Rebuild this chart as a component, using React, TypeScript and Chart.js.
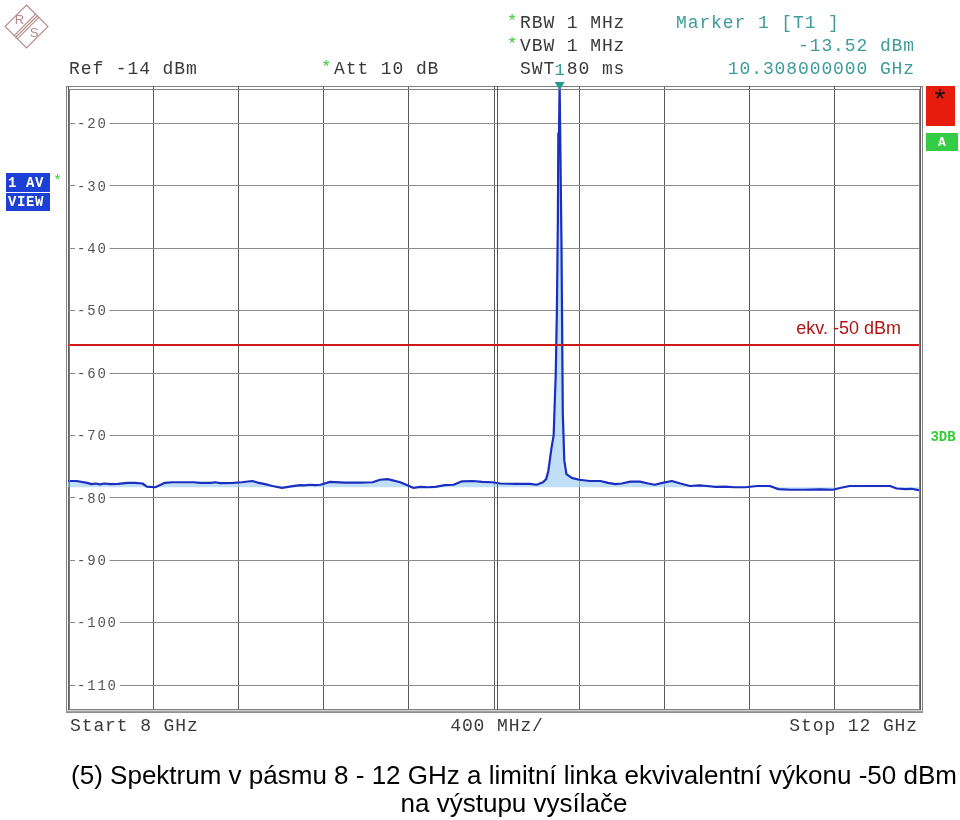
import React, { useEffect, useRef } from "react";
import { Chart, registerables } from "chart.js";

Chart.register(...registerables);

// ---- data ----
const freqGHz = [
  8.0, 8.04, 8.09, 8.11, 8.13, 8.15, 8.17, 8.2, 8.235, 8.28, 8.315, 8.35, 8.37, 8.41, 8.43, 8.455, 8.49, 8.55,
  8.59, 8.62, 8.67, 8.69, 8.715, 8.775, 8.815, 8.865, 8.89, 8.925, 8.96, 9.005, 9.04, 9.09, 9.11, 9.135, 9.16,
  9.185, 9.23, 9.3, 9.37, 9.43, 9.465, 9.5, 9.525, 9.56, 9.59, 9.62, 9.655, 9.69, 9.725, 9.77, 9.81, 9.85, 9.9,
  9.945, 9.99, 10.03, 10.1, 10.17, 10.2, 10.23, 10.245, 10.255, 10.27, 10.28, 10.29, 10.295, 10.3, 10.302,
  10.305, 10.308, 10.312, 10.317, 10.323, 10.33, 10.34, 10.365, 10.4, 10.45, 10.5, 10.535, 10.57, 10.6, 10.64,
  10.685, 10.725, 10.755, 10.79, 10.835, 10.875, 10.92, 10.965, 11.0, 11.04, 11.085, 11.13, 11.18, 11.235,
  11.295, 11.335, 11.39, 11.46, 11.53, 11.59, 11.635, 11.67, 11.765, 11.86, 11.89, 11.93, 11.96, 12.0,
];
const levelDbm = [
  -77.3, -77.3, -77.6, -77.8, -77.7, -77.85, -77.7, -77.8, -77.75, -77.6, -77.6, -77.7, -78.2, -78.3, -78.0,
  -77.6, -77.5, -77.5, -77.5, -77.6, -77.6, -77.5, -77.65, -77.6, -77.5, -77.3, -77.55, -77.8, -78.1, -78.4,
  -78.2, -77.95, -78.0, -77.9, -77.95, -77.9, -77.45, -77.55, -77.55, -77.5, -77.1, -77.0, -77.2, -77.5, -77.95,
  -78.4, -78.25, -78.3, -78.25, -77.95, -77.9, -77.35, -77.3, -77.45, -77.5, -77.7, -77.75, -77.75, -77.9, -77.5,
  -77.0, -75.7, -72.0, -70.0, -60.0, -50.5, -35.0, -21.6, -22.0, -13.5, -25.0, -40.0, -66.5, -74.0, -76.2,
  -76.8, -77.1, -77.3, -77.3, -77.6, -77.8, -77.7, -77.4, -77.4, -77.7, -77.9, -77.6, -77.3, -77.7, -78.1,
  -78.0, -78.1, -78.25, -78.2, -78.3, -78.3, -78.1, -78.1, -78.6, -78.7, -78.7, -78.65, -78.7, -78.35, -78.1,
  -78.1, -78.1, -78.5, -78.6, -78.55, -78.8,
];
const yTickValues = [-20, -30, -40, -50, -60, -70, -80, -90, -100, -110];
const xGridGHz = [8.0, 8.4, 8.8, 9.2, 9.6, 10.0, 10.4, 10.8, 11.2, 11.6, 12.0];
const refLevel = -14;
const bottomLevel = -114;
const limitLevel = -55.5;
const limitLabel = "ekv. -50 dBm";
const markerFreq = 10.308;
const fillBase = -78.3;

const headerLeft = "Ref -14 dBm";
const headerAtt = "Att 10 dB";
const headerRbw = "RBW 1 MHz";
const headerVbw = "VBW 1 MHz";
const headerSwt = "SWT 80 ms";
const markerTitle = "Marker 1 [T1 ]";
const markerLevel = "-13.52 dBm";
const markerFreqText = "10.308000000 GHz";
const footerStart = "Start 8 GHz";
const footerDiv = "400 MHz/";
const footerStop = "Stop 12 GHz";
const caption1 = "(5) Spektrum v pásmu 8 - 12 GHz a limitní linka ekvivalentní výkonu -50 dBm";
const caption2 = "na výstupu vysílače";

const MONO = '"Liberation Mono", "DejaVu Sans Mono", monospace';
const SANS = '"Liberation Sans", Arial, sans-serif';

function txt(ctx: any, s: string, x: number, y: number, font: string, color: string, align: string = "left", spacing = 0) {
  ctx.save();
  ctx.font = font;
  ctx.fillStyle = color;
  ctx.textAlign = align;
  ctx.textBaseline = "middle";
  try { ctx.letterSpacing = spacing + "px"; } catch (e) {}
  ctx.fillText(s, x, y);
  ctx.restore();
}

const decorPlugin = {
  id: "decor",
  beforeDraw(chart: any) {
    const { ctx } = chart;
    ctx.save();
    ctx.fillStyle = "#ffffff";
    ctx.fillRect(0, 0, chart.width, chart.height);
    ctx.restore();
  },
  afterDatasetsDraw(chart: any) {
    const { ctx, chartArea: a, scales } = chart;
    const ys = scales.y;
    const xs = scales.x;
    // limit line
    const ly = ys.getPixelForValue(limitLevel);
    ctx.save();
    ctx.strokeStyle = "#cc1a1a";
    ctx.lineWidth = 2;
    ctx.beginPath();
    ctx.moveTo(a.left, ly);
    ctx.lineTo(a.right, ly);
    ctx.stroke();
    ctx.restore();
    txt(ctx, limitLabel, 901, ly - 16, "18px " + SANS, "#b01515", "right");

    // y labels inside with white backdrop
    for (const v of yTickValues) {
      const y = ys.getPixelForValue(v);
      const s = String(v);
      const w = s.length * 10.2;
      ctx.save();
      ctx.fillStyle = "#ffffff";
      ctx.fillRect(a.left + 7, y - 7, w + 4, 14);
      ctx.restore();
      txt(ctx, s, a.left + 9, y + 1, "14px " + MONO, "#555555", "left", 1.8);
    }

    // frame (double line)
    ctx.save();
    ctx.strokeStyle = "#808080";
    ctx.lineWidth = 1;
    ctx.strokeRect(a.left - 1.5, a.top + 0.5, a.right - a.left + 4, a.bottom - a.top + 2);
    ctx.strokeRect(a.left + 1.5, a.top + 3.5, a.right - a.left - 2, a.bottom - a.top - 4);
    ctx.strokeStyle = "#a0a0a0";
    ctx.lineWidth = 2;
    ctx.beginPath();
    ctx.moveTo(a.left - 1.5, a.bottom + 1.5);
    ctx.lineTo(a.right + 3, a.bottom + 1.5);
    ctx.stroke();
    // center double line
    const cx = xs.getPixelForValue(10.0);
    ctx.strokeStyle = "#555555";
    ctx.lineWidth = 1;
    ctx.beginPath();
    ctx.moveTo(Math.round(cx) + 3.5, a.top);
    ctx.lineTo(Math.round(cx) + 3.5, a.bottom);
    ctx.stroke();
    ctx.restore();

    // marker triangle
    const mx = xs.getPixelForValue(markerFreq);
    ctx.save();
    ctx.fillStyle = "#1f9c8c";
    ctx.beginPath();
    ctx.moveTo(mx - 5, a.top - 4);
    ctx.lineTo(mx + 5, a.top - 4);
    ctx.lineTo(mx, a.top + 4);
    ctx.closePath();
    ctx.fill();
    ctx.restore();
    txt(ctx, "1", mx, 70, "17px " + MONO, "#2f9c9c", "center");
  },
  afterDraw(chart: any) {
    const { ctx } = chart;
    const headFont = "18px " + MONO;
    const gray = "#3a3a3a";
    const teal = "#3f9b9b";
    const green = "#33cc33";
    txt(ctx, headerLeft, 69, 69, headFont, gray, "left", 0.9);
    txt(ctx, "*", 321, 67, "17px " + MONO, green, "left");
    txt(ctx, headerAtt, 334, 69, headFont, gray, "left", 0.9);
    txt(ctx, "*", 507, 21, "17px " + MONO, green, "left");
    txt(ctx, headerRbw, 520, 23, headFont, gray, "left", 0.9);
    txt(ctx, "*", 507, 44, "17px " + MONO, green, "left");
    txt(ctx, headerVbw, 520, 46, headFont, gray, "left", 0.9);
    txt(ctx, headerSwt, 520, 69, headFont, gray, "left", 0.9);
    txt(ctx, markerTitle, 676, 23, headFont, teal, "left", 0.9);
    txt(ctx, markerLevel, 915, 46, headFont, teal, "right", 0.9);
    txt(ctx, markerFreqText, 915, 69, headFont, teal, "right", 0.9);

    // bottom labels
    txt(ctx, footerStart, 70, 726, headFont, gray, "left", 0.9);
    txt(ctx, footerDiv, 497, 726, headFont, gray, "center", 0.9);
    txt(ctx, footerStop, 918, 726, headFont, gray, "right", 0.9);

    // left badge
    ctx.save();
    ctx.fillStyle = "#1c3fd6";
    ctx.fillRect(6, 173, 44, 19);
    ctx.fillRect(6, 193, 44, 18);
    ctx.restore();
    txt(ctx, "1 AV", 8, 183, "bold 14px " + MONO, "#ffffff", "left", 0.6);
    txt(ctx, "VIEW", 8, 202, "bold 14px " + MONO, "#ffffff", "left", 0.6);
    txt(ctx, "*", 53, 181, "15px " + MONO, green, "left");

    // right side boxes
    ctx.save();
    ctx.fillStyle = "#e81c0c";
    ctx.fillRect(926, 86, 29, 40);
    ctx.fillStyle = "#33cc44";
    ctx.fillRect(926, 133, 32, 18);
    ctx.restore();
    txt(ctx, "*", 940, 102, "28px " + MONO, "#111111", "center");
    txt(ctx, "A", 942, 143, "bold 13px " + MONO, "#ffffff", "center");
    txt(ctx, "3DB", 943, 437, "bold 14px " + MONO, "#33cc33", "center");

    // R&S logo
    ctx.save();
    ctx.strokeStyle = "#b58a8a";
    ctx.lineWidth = 1.1;
    const lx = 26.5, lyy = 26.5, r = 21.5;
    ctx.beginPath();
    ctx.moveTo(lx, lyy - r);
    ctx.lineTo(lx + r, lyy);
    ctx.lineTo(lx, lyy + r);
    ctx.lineTo(lx - r, lyy);
    ctx.closePath();
    ctx.stroke();
    for (const o of [-1.6, 0, 1.6]) {
      ctx.beginPath();
      ctx.moveTo(lx + r * 0.5 + o, lyy - r * 0.5 + o);
      ctx.lineTo(lx - r * 0.5 + o, lyy + r * 0.5 + o);
      ctx.stroke();
    }
    ctx.restore();
    txt(ctx, "R", 19.5, 20, "13px " + SANS, "#b58a8a", "center");
    txt(ctx, "S", 34, 33.5, "13px " + SANS, "#b58a8a", "center");

    // caption
    txt(ctx, caption1, 514, 777, "26px " + SANS, "#000000", "center");
    txt(ctx, caption2, 514, 805, "26px " + SANS, "#000000", "center");
  },
};

export default function App() {
  const ref = useRef<HTMLCanvasElement | null>(null);
  useEffect(() => {
    if (!ref.current) return;
    const points = freqGHz.map((f, i) => ({ x: f, y: levelDbm[i] }));
    const chart = new Chart(ref.current, {
      type: "line",
      data: {
        datasets: [
          {
            data: points,
            borderColor: "#1a2fbf",
            borderWidth: 2.2,
            borderJoinStyle: "round",
            pointRadius: 0,
            tension: 0,
            fill: { value: fillBase },
            backgroundColor: "rgba(160,205,242,0.65)",
          },
        ],
      },
      options: {
        responsive: false,
        animation: false,
        layout: { padding: { left: 68, top: 86, right: 40, bottom: 110 } },
        plugins: { legend: { display: false }, tooltip: { enabled: false } },
        scales: {
          x: {
            type: "linear",
            min: 8,
            max: 12,
            afterBuildTicks: (s: any) => { s.ticks = xGridGHz.map((v) => ({ value: v })); },
            ticks: { display: false },
            grid: { color: "#5a5a5a", lineWidth: 1, drawTicks: false },
            border: { display: false },
          },
          y: {
            type: "linear",
            min: bottomLevel,
            max: refLevel,
            afterBuildTicks: (s: any) => { s.ticks = yTickValues.map((v) => ({ value: v })); },
            ticks: { display: false },
            grid: { color: "#8c8c8c", lineWidth: 1, drawTicks: false },
            border: { display: false },
          },
        },
      },
      plugins: [decorPlugin],
    } as any);
    return () => chart.destroy();
  }, []);
  return (
    <div style={{ position: "fixed", left: 0, top: 0, width: 960, height: 820, background: "#fff" }}>
      <canvas ref={ref} width={960} height={820} />
    </div>
  );
}
